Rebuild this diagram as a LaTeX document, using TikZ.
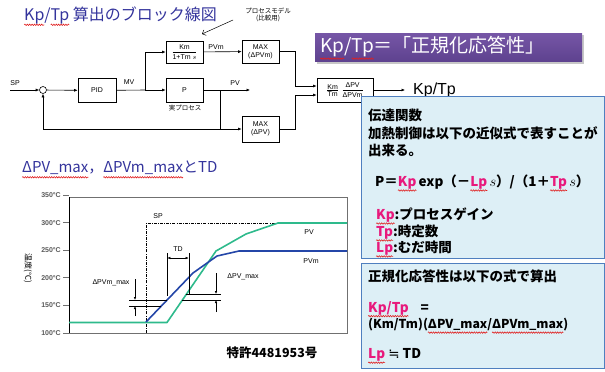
\documentclass[tikz,border=0pt]{standalone}
\usepackage{fontspec}
\setmainfont{Liberation Sans}
\newfontfamily\jp{Noto Sans CJK JP}
\newfontfamily\dv{DejaVu Sans}
\usetikzlibrary{arrows.meta,decorations.pathmorphing}
\definecolor{ttlblue}{HTML}{34349C}
\definecolor{bantop}{HTML}{7656A6}
\definecolor{banbot}{HTML}{5E428F}
\definecolor{boxfill}{HTML}{DDEFF6}
\definecolor{boxline}{HTML}{4F7FBF}
\definecolor{pvgreen}{HTML}{2EBA8C}
\definecolor{pvmblue}{HTML}{2446A8}
\definecolor{pinkk}{HTML}{E8197C}
\definecolor{axgrey}{HTML}{707070}
\definecolor{wavered}{HTML}{E02020}
\newsavebox\wvbox
\newcommand\wv[2]{\sbox\wvbox{\textcolor{#1}{#2}}\edef\wvw{\the\wd\wvbox}%
  \makebox[0pt][l]{\tikz[overlay,baseline=0pt]\draw[wavered,line width=0.6pt,decorate,decoration={snake,amplitude=0.7pt,segment length=2.4pt}] (0pt,-0.3em) -- (\wvw,-0.3em);}%
  \usebox\wvbox}
\begin{document}
\begin{tikzpicture}[x=1pt,y=-1pt,
  blk/.style={draw, line width=0.7pt, inner sep=0pt, font=\fontsize{7}{8}\selectfont, align=center},
  arr/.style={line width=0.6pt, -{Latex[length=3.5pt,width=3pt]}},
  ln/.style={line width=0.6pt},
  lbl/.style={font=\fontsize{7}{8}\selectfont, inner sep=0pt},
  jlbl/.style={font=\jp\fontsize{6.5}{7.5}\selectfont, inner sep=0pt},
  btxt/.style={font=\jp\bfseries\fontsize{13.5}{15}\selectfont, inner sep=0pt, anchor=west},
  tick/.style={font=\bfseries\fontsize{7}{8}\selectfont, text=black!65, inner sep=0pt, anchor=east},
  grid/.style={axgrey, line width=0.7pt},
  meas/.style={line width=0.5pt},
  marr/.style={line width=0.5pt, -{Latex[length=3pt,width=2.5pt]}},
  curve/.style={line width=1.6pt, line join=round}]
\useasboundingbox (0,0) rectangle (605,372);
% ---------- titles ----------
\node[anchor=west, inner sep=0, font=\jp\fontsize{16}{18}\selectfont, text=ttlblue] (ttl1) at (24,15)
  {\wv{ttlblue}{Kp}/\wv{ttlblue}{Tp} 算出のブロック線図};
\node[anchor=west, inner sep=0, font=\jp\fontsize{15}{17}\selectfont, text=ttlblue] (ttl2) at (22,168)
  {\wv{ttlblue}{ΔPV\_max}，\wv{ttlblue}{ΔPVm\_max}とTD};
% ---------- block diagram ----------
\node[draw, circle, minimum size=7pt, inner sep=0pt, line width=0.6pt] (sum) at (43,90) {};
\node[blk, minimum width=38pt, minimum height=24pt] (pid) at (97,90.5) {PID};
\node[blk, minimum width=37pt, minimum height=22pt] (km) at (184.5,52)
  {$\displaystyle\frac{\mbox{Km}}{\mbox{1+Tm }s}$};
\node[blk, minimum width=37pt, minimum height=24pt] (p) at (184.5,90) {P};
\node[blk, minimum width=37pt, minimum height=23pt] (maxm) at (260.5,51.5) {MAX\\(ΔPVm)};
\node[blk, minimum width=37pt, minimum height=26pt] (maxpv) at (260.5,129) {MAX\\(ΔPV)};
\node[blk, minimum width=56pt, minimum height=24pt] (kmtm) at (345,90)
  {$\frac{\mbox{Km}}{\mbox{Tm}}\;\displaystyle\frac{\mbox{ΔPV}}{\mbox{ΔPVm}}$};
\node[anchor=west, inner sep=0pt, font=\fontsize{16}{18}\selectfont] (kptp) at (413,90) {Kp/Tp};
\coordinate (spin) at (10,90);
\coordinate (mvb) at (145,90);
\coordinate (pvb) at (220,90);
\coordinate (pvend) at (250,90);
\coordinate (fbb) at (220,129);
\coordinate (j1) at (295,51.5);
\coordinate (j2) at (295,129);
\coordinate (kpend) at (405,90);
\draw[arr] (spin) -- (sum);
\draw[arr] (sum) -- (pid);
\draw[ln] (pid) -- (mvb);
\draw[arr] (mvb) -- (p);
\draw[arr] (mvb) |- (km);
\draw[arr] (km) -- (maxm);
\draw[arr] (p) -- (pvend);
\draw[ln] (pvb) -- (fbb);
\draw[arr] (fbb) -- (maxpv);
\draw[arr] (fbb) -| (sum);
\draw[arr] (maxm.east) -- (j1) |- ([yshift=4pt]kmtm.west);
\draw[arr] (maxpv.east) -- (j2) |- ([yshift=-5pt]kmtm.west);
\draw[arr] (kmtm) -- (kpend);
\node[lbl] (lsp) at (15,83) {SP};
\node[lbl] (lmv) at (129,82) {MV};
\node[lbl] (lpvm) at (216,47) {PVm};
\node[lbl] (lpv) at (235,83) {PV};
\node[jlbl] (ljp) at (185,108) {実プロセス};
\node[jlbl, align=center] (annot) at (268,15) {プロセスモデル\\(比較用)};
\coordinate (an1) at (233,20);
\coordinate (an2) at (202,34);
\draw[line width=0.5pt, -{Straight Barb[length=3pt]}] (an1) -- (an2);
% ---------- banner ----------
\fill[black!22] (317,35) rectangle (584,64);
\node[top color=bantop, bottom color=banbot, minimum width=267pt, minimum height=28pt, anchor=north west, inner sep=0pt] (ban) at (315,33) {};
\node[anchor=west, inner sep=0pt, text=white, font=\jp\fontsize{19}{22}\selectfont] (bant) at (320,47)
  {\wv{white}{Kp}/\wv{white}{Tp}＝「正規化応答性」};
% ---------- info boxes ----------
\draw[fill=boxfill, draw=boxline, line width=0.8pt] (361,96) rectangle (604,258);
\draw[fill=boxfill, draw=boxline, line width=0.8pt] (361,263) rectangle (604,368);
\node[btxt] (b1) at (368,115) {伝達関数};
\node[btxt] (b2) at (368,133) {加熱制御は以下の近似式で表すことが};
\node[btxt] (b3) at (368,150) {出来る。};
\node[btxt] (b4) at (375,182) {P＝\wv{pinkk}{Kp}\,exp（－\wv{pinkk}{Lp}\,$s$）/（1＋\wv{pinkk}{Tp}\,$s$）};
\node[btxt] (b5) at (376,215) {\wv{pinkk}{Kp}:プロセスゲイン};
\node[btxt] (b6) at (376,232) {\wv{pinkk}{Tp}:時定数};
\node[btxt] (b7) at (376,248) {\wv{pinkk}{Lp}:むだ時間};
\node[btxt] (c1) at (368,276) {正規化応答性は以下の式で算出};
\node[btxt] (c2) at (368,308) {\wv{pinkk}{Kp/Tp}\hspace{12pt}=};
\node[btxt, font=\jp\bfseries\fontsize{12.3}{14}\selectfont] (c3) at (368,325) {(Km/Tm)(\wv{black}{ΔPV\_max}/\wv{black}{ΔPVm\_max})};
\node[btxt] (c4) at (368,355) {\wv{pinkk}{Lp} {\dv\mdseries ≒} TD};
% ---------- chart ----------
\draw[grid] (69,197) -- (347,197) -- (347,333) -- (69,333);
\foreach \yy/\t in {333/100,305.4/150,277.8/200,250.2/250,222.6/300,195/350}{
  \draw[grid] (63,\yy) -- (69,\yy);
  \node[tick] at (61,\yy) {\t°C};
}
\draw[black, line width=0.8pt] (69,197) -- (69,333);
\node[rotate=-90, inner sep=0pt, font=\jp\fontsize{8}{9}\selectfont] (ytitle) at (28,268) {温度(℃)};
\draw[line width=0.6pt, dash pattern=on 3pt off 1.2pt on 0.8pt off 1.2pt] (146,333) -- (146,223) -- (347,223);
\node[lbl] (lsp2) at (158,216) {SP};
\draw[curve, pvgreen] (69,322.5) -- (167,322.5) -- (216,251) -- (246,234) -- (278,223) -- (347,223);
\draw[curve, pvmblue] (146,322) -- (193,273) -- (217,256) -- (239,251) -- (347,251);
\node[lbl] (lpv2) at (309,232) {PV};
\node[lbl] (lpvm2) at (311,261) {PVm};
% TD
\draw[meas] (167,253) -- (167,296);
\draw[meas] (189,253) -- (189,294);
\draw[marr] (178,258) -- (167.3,258);
\draw[marr] (178,258) -- (188.7,258);
\node[lbl] (ltd) at (178,249) {TD};
% dPVm_max
\draw[meas] (129,300) -- (167,300);
\draw[meas] (129,306) -- (161,306);
\draw[marr] (135,279) -- (135,300);
\draw[marr] (135,316) -- (135,306);
\node[lbl] (ldpvm) at (111,283) {ΔPVm\_max};
% dPV_max
\draw[meas] (186,294) -- (221,294);
\draw[meas] (182,300) -- (221,300);
\draw[marr] (216,273) -- (216,294);
\draw[marr] (216,312) -- (216,300);
\node[lbl] (ldpv) at (243,277) {ΔPV\_max};
\node[inner sep=0pt, font=\jp\bfseries\fontsize{12.5}{14}\selectfont] (pat) at (272,353) {特許4481953号};
\end{tikzpicture}
\end{document}
